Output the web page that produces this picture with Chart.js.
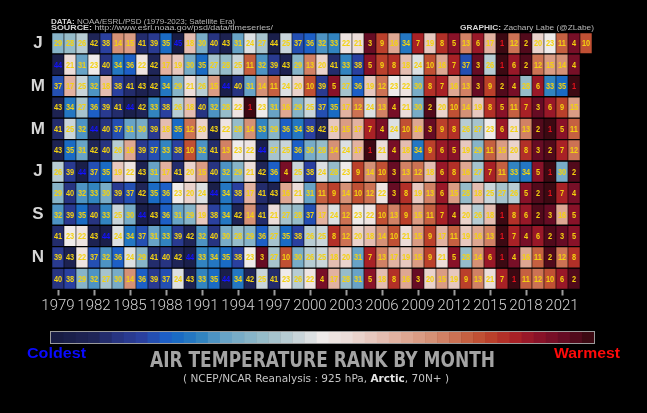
<!DOCTYPE html>
<html>
<head>
<meta charset="utf-8">
<script src="https://cdn.jsdelivr.net/npm/chart.js@4.4.0/dist/chart.umd.min.js"></script>
<style>
  html, body { margin: 0; padding: 0; background: #000; overflow: hidden; }
  #wrap { width: 647px; height: 413px; }
</style>
</head>
<body>
<div id="wrap"><canvas id="rankChart"></canvas></div>
<script>
const years = [1979, 1980, 1981, 1982, 1983, 1984, 1985, 1986, 1987, 1988, 1989, 1990,
  1991, 1992, 1993, 1994, 1995, 1996, 1997, 1998, 1999, 2000, 2001, 2002, 2003, 2004,
  2005, 2006, 2007, 2008, 2009, 2010, 2011, 2012, 2013, 2014, 2015, 2016, 2017, 2018,
  2019, 2020, 2021, 2022, 2023];
const yearTicks = [1979, 1982, 1985, 1988, 1991, 1994, 1997, 2000, 2003, 2006, 2009, 2012, 2015, 2018, 2021];
const months = ['J', 'F', 'M', 'A', 'M', 'J', 'J', 'A', 'S', 'O', 'N', 'D'];

// rank 1 = warmest, 45 = coldest
const rankJan = [29,28,26,42,38,14,15,41,39,35,45,18,30,40,43,31,24,27,44,25,37,36,32,33,22,21,3,9,16,34,7,19,8,5,13,6,17,1,12,2,20,23,11,4,10];
const rankFeb = [44,21,31,23,40,34,36,22,42,17,19,30,35,27,28,25,11,32,39,43,29,13,20,41,33,38,5,9,8,18,24,10,16,7,37,3,26,1,6,2,12,15,14,4];
const rankMar = [37,17,25,32,18,38,41,43,42,34,29,21,26,15,44,40,31,14,11,24,20,10,39,5,27,36,19,12,23,22,30,8,7,16,13,3,9,2,4,28,6,33,35,1];
const rankApr = [43,34,27,36,39,41,44,42,33,38,26,18,40,32,28,22,1,23,31,16,29,25,37,35,17,12,24,13,4,21,30,2,20,10,14,19,8,5,11,7,3,6,9,15];
const rankMay = [41,25,32,44,40,37,31,30,39,18,35,12,20,43,22,28,14,33,29,36,34,38,42,19,15,17,7,4,24,10,16,3,9,8,26,27,23,6,21,13,2,1,5,11];
const rankJun = [43,35,31,42,40,26,16,39,37,33,38,10,32,41,13,23,22,44,27,25,36,30,28,14,24,17,1,21,4,18,34,9,6,5,19,29,11,15,20,8,3,2,7,12];
const rankJul = [26,39,44,37,35,19,22,43,31,17,41,20,15,40,32,29,21,42,36,4,25,38,24,28,23,9,14,10,3,13,12,18,6,8,16,27,7,11,33,34,5,1,30,2];
const rankAug = [29,40,32,33,30,39,37,42,35,36,23,20,24,44,34,38,17,41,43,16,21,31,11,9,14,10,12,22,3,8,19,13,6,15,28,18,25,27,26,5,2,1,7,4];
const rankSep = [32,39,35,40,33,25,30,44,43,36,31,29,19,38,34,42,14,41,21,27,28,37,17,24,12,23,22,10,13,9,15,11,7,4,20,26,18,1,8,6,2,3,16,5];
const rankOct = [41,23,22,43,44,24,34,37,31,33,39,42,32,40,30,28,29,36,27,35,38,26,25,8,12,20,18,14,10,21,15,9,17,11,19,16,13,1,7,4,6,2,3,5];
const rankNov = [39,43,22,37,32,36,24,29,41,40,42,44,33,34,35,38,23,3,27,10,30,26,25,18,20,31,7,13,17,19,15,9,21,5,28,14,6,1,4,16,11,2,12,8];
const rankDec = [40,38,29,32,27,30,14,36,39,37,24,43,33,35,44,34,42,25,41,23,26,22,4,17,28,31,5,18,8,16,3,20,15,19,9,13,21,7,1,11,12,10,6,2];

const ranks = [rankJan, rankFeb, rankMar, rankApr, rankMay, rankJun,
  rankJul, rankAug, rankSep, rankOct, rankNov, rankDec];
const maxRank = 45;

// diverging map, 0 = coldest (navy) .. 1 = warmest (maroon)
const stops = [
  [0.00, '#181c43'], [0.07, '#1f2558'], [0.11, '#27337f'], [0.16, '#2a40a0'],
  [0.205, '#1d5fc6'], [0.23, '#1a6cc4'], [0.27, '#2f82c0'], [0.32, '#6aa4c6'],
  [0.36, '#85b3c8'], [0.40, '#9fc0ca'], [0.45, '#c5d3d8'], [0.50, '#efebea'],
  [0.55, '#ecdcd7'], [0.60, '#e6c4ba'], [0.65, '#e0ab98'], [0.70, '#d69479'],
  [0.75, '#cc7254'], [0.78, '#c35a3b'], [0.82, '#ba3f2a'], [0.86, '#aa2226'],
  [0.90, '#8f1329'], [0.95, '#6a0c26'], [1.00, '#3c0912']
];

function hexRgb(h) {
  return [1, 3, 5].map(i => parseInt(h.slice(i, i + 2), 16));
}

function rankColor(r) {
  const t = (maxRank - r) / (maxRank - 1);
  for (let i = 1; i < stops.length; i++) {
    if (t <= stops[i][0]) {
      const [t0, c0] = stops[i - 1], [t1, c1] = stops[i];
      const f = (t - t0) / (t1 - t0);
      const a = hexRgb(c0), b = hexRgb(c1);
      const c = a.map((v, k) => Math.round(v + (b[k] - v) * f));
      return `rgb(${c[0]},${c[1]},${c[2]})`;
    }
  }
  return stops[stops.length - 1][1];
}

// numbers inside the cells
const cellLabels = {
  id: 'cellLabels',
  afterDatasetsDraw(chart) {
    const ctx = chart.ctx;
    ctx.save();
    ctx.font = 'bold 9px "Liberation Sans", Arial, sans-serif';
    ctx.textAlign = 'center';
    ctx.textBaseline = 'middle';
    chart.data.datasets.forEach((ds, m) => {
      const coldest = Math.max(...ds.ranks);
      chart.getDatasetMeta(m).data.forEach((bar, i) => {
        const r = ds.ranks[i];
        if (r == null) return;
        ctx.fillStyle = r === 1 ? '#e8121c' : r === coldest ? '#1212ff' : '#f4d20e';
        ctx.save();
        ctx.translate(bar.x, (bar.y + bar.base) / 2 + 0.5);
        ctx.scale(0.82, 1);
        ctx.fillText(String(r), 0, 0);
        ctx.restore();
      });
    });
    ctx.restore();
  }
};

// text runs squeezed to a given width
function drawRuns(ctx, runs, x, y, width, align) {
  let total = 0;
  runs.forEach(r => { ctx.font = r.font; total += ctx.measureText(r.text).width; });
  const s = width ? width / total : 1;
  let start = x;
  if (align === 'center') start = x - total * s / 2;
  if (align === 'right') start = x - total * s;
  ctx.save();
  ctx.translate(start, y);
  ctx.scale(s, 1);
  ctx.textAlign = 'left';
  ctx.textBaseline = 'middle';
  let cx = 0;
  runs.forEach(r => {
    ctx.font = r.font;
    ctx.fillStyle = r.color;
    ctx.fillText(r.text, cx, 0);
    cx += ctx.measureText(r.text).width;
  });
  ctx.restore();
}

const decor = {
  id: 'decor',
  afterDraw(chart) {
    const ctx = chart.ctx;
    const small = '7.5px "Liberation Sans", sans-serif';
    const smallB = 'bold 7.5px "Liberation Sans", sans-serif';
    drawRuns(ctx, [{ text: 'DATA: ', font: smallB, color: '#d4d4d4' },
      { text: 'NOAA/ESRL/PSD (1979-2023; Satellite Era)', font: small, color: '#b8b8b8' }], 51, 21.8, 184, 'left');
    drawRuns(ctx, [{ text: 'SOURCE: ', font: smallB, color: '#d4d4d4' },
      { text: 'http://www.esrl.noaa.gov/psd/data/timeseries/', font: small, color: '#b8b8b8' }], 51, 28.3, 222, 'left');
    drawRuns(ctx, [{ text: 'GRAPHIC: ', font: smallB, color: '#d4d4d4' },
      { text: 'Zachary Labe (@ZLabe)', font: small, color: '#b8b8b8' }], 594, 28.3, 134, 'right');

    // colour bar, coldest on the left
    const x0 = 51, x1 = 594, y0 = 332, y1 = 343;
    const w = (x1 - x0) / maxRank;
    for (let k = 0; k < maxRank; k++) {
      ctx.fillStyle = rankColor(maxRank - k);
      ctx.fillRect(x0 + k * w, y0, w + 0.5, y1 - y0);
    }
    ctx.strokeStyle = '#9a9a9a';
    ctx.lineWidth = 1;
    ctx.strokeRect(x0 - 0.5, y0 - 0.5, x1 - x0 + 1, y1 - y0 + 1);

    drawRuns(ctx, [{ text: 'Coldest', font: 'bold 15px "Liberation Sans", sans-serif', color: '#0a0aff' }], 56.5, 354, 59, 'center');
    drawRuns(ctx, [{ text: 'Warmest', font: 'bold 15px "Liberation Sans", sans-serif', color: '#ff0a0a' }], 587, 354, 66, 'center');
    drawRuns(ctx, [{ text: 'AIR TEMPERATURE RANK BY MONTH', font: 'bold 22px "DejaVu Sans", sans-serif', color: '#a4a4a4' }], 322.5, 361, 345, 'center');
    const sub = '10.5px "DejaVu Sans", sans-serif';
    drawRuns(ctx, [{ text: '( NCEP/NCAR Reanalysis : 925 hPa, ', font: sub, color: '#c4c4c4' },
      { text: 'Arctic', font: 'bold ' + sub, color: '#e6e6e6' },
      { text: ', 70N+ )', font: sub, color: '#c4c4c4' }], 316, 379, 266, 'center');
  }
};

const ctx = document.getElementById('rankChart').getContext('2d');
const rankChart = new Chart(ctx, {
  type: 'bar',
  data: {
    labels: years.map(String),
    datasets: ranks.map((row, m) => ({
      label: months[m],
      data: row.map(() => [m, m + 1]),
      ranks: row,
      backgroundColor: row.map(r => rankColor(r)),
      borderColor: '#000',
      borderWidth: { top: 1, bottom: 1, left: 0.6, right: 0.6 },
      borderSkipped: false,
      grouped: false,
      categoryPercentage: 1,
      barPercentage: 1
    }))
  },
  options: {
    responsive: true,
    maintainAspectRatio: false,
    animation: false,
    layout: { padding: { left: 0, right: 55, top: 32.5, bottom: 93.5 } },
    plugins: { legend: { display: false }, tooltip: { enabled: false } },
    scales: {
      x: {
        type: 'category',
        afterFit: axis => { axis.height = 30; },
        grid: {
          drawOnChartArea: false,
          offset: false,
          tickLength: 6,
          tickWidth: 2,
          tickColor: c => yearTicks.includes(years[c.index]) ? '#9c9c9c' : 'rgba(0,0,0,0)'
        },
        border: { display: false },
        ticks: {
          autoSkip: false,
          maxRotation: 0,
          padding: 2,
          color: '#d2d2d2',
          font: { family: 'Roboto, "Liberation Sans", sans-serif', size: 15, weight: '300' },
          callback: (v, i) => yearTicks.includes(years[i]) ? String(years[i]) : ''
        }
      },
      y: {
        min: 0,
        max: 12,
        reverse: true,
        afterFit: axis => { axis.width = 52; },
        afterBuildTicks: axis => { axis.ticks = months.map((m, i) => ({ value: i + 0.5 })); },
        grid: { display: false, drawTicks: false },
        border: { display: false },
        ticks: {
          crossAlign: 'center',
          padding: 7,
          color: '#d6d6d6',
          font: { family: '"Liberation Sans", sans-serif', size: 17, weight: 'bold' },
          callback: (v, i) => months[i]
        }
      }
    }
  },
  plugins: [cellLabels, decor]
});
</script>
</body>
</html>
